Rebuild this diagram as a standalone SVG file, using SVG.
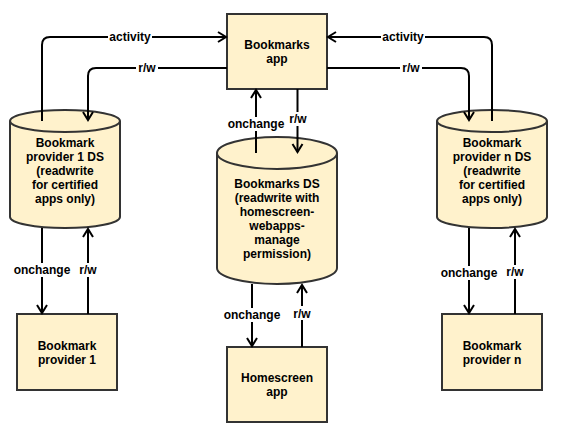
<svg xmlns="http://www.w3.org/2000/svg" width="572" height="442" viewBox="0 0 572 442">
<style>
.node{fill:#fff2cc;stroke:#333;stroke-width:2}
.t{font-family:"Liberation Sans",Arial,sans-serif;font-size:12px;font-weight:bold;fill:#000;text-anchor:middle}
.c{fill:none;stroke:#000;stroke-width:2}
.bg{fill:#fff}
</style>
<defs>
<marker id="arr" markerUnits="userSpaceOnUse" markerWidth="14" markerHeight="14" refX="10" refY="7" orient="auto" viewBox="0 0 14 14">
<path d="M2,2 L10,7 L2,12" fill="none" stroke="#000" stroke-width="2"/>
</marker>
</defs>
<rect width="572" height="442" fill="#fff"/>
<g id="bookmarks-app">
<rect class="node" x="227" y="14" width="100" height="75"/>
<text class="t" x="277" y="48.5">Bookmarks</text>
<text class="t" x="277" y="62.5">app</text>
</g>
<g id="provider1-ds">
<path class="node" d="M10,121 A55,11 0 0 1 120,121 V217 A55,11 0 0 1 10,217 Z"/>
<path class="node" d="M10,121 A55,11 0 0 0 120,121" fill="none"/>
<text class="t" x="65" y="147">Bookmark</text>
<text class="t" x="65" y="161">provider 1 DS</text>
<text class="t" x="65" y="175">(readwrite</text>
<text class="t" x="65" y="189">for certified</text>
<text class="t" x="65" y="203">apps only)</text>
</g>
<g id="bookmarks-ds">
<path class="node" d="M217,153 A60,16 0 0 1 337,153 V268 A60,16 0 0 1 217,268 Z"/>
<path class="node" d="M217,153 A60,16 0 0 0 337,153" fill="none"/>
<text class="t" x="277" y="188">Bookmarks DS</text>
<text class="t" x="277" y="202">(readwrite with</text>
<text class="t" x="277" y="216">homescreen-</text>
<text class="t" x="277" y="230">webapps-</text>
<text class="t" x="277" y="244">manage</text>
<text class="t" x="277" y="258">permission)</text>
</g>
<g id="providern-ds">
<path class="node" d="M437,121 A55,11 0 0 1 547,121 V217 A55,11 0 0 1 437,217 Z"/>
<path class="node" d="M437,121 A55,11 0 0 0 547,121" fill="none"/>
<text class="t" x="492" y="147">Bookmark</text>
<text class="t" x="492" y="161">provider n DS</text>
<text class="t" x="492" y="175">(readwrite</text>
<text class="t" x="492" y="189">for certified</text>
<text class="t" x="492" y="203">apps only)</text>
</g>
<g id="provider1">
<rect class="node" x="17" y="314" width="100" height="76"/>
<text class="t" x="67" y="349.5">Bookmark</text>
<text class="t" x="67" y="363.5">provider 1</text>
</g>
<g id="homescreen-app">
<rect class="node" x="227" y="347" width="100" height="75"/>
<text class="t" x="277" y="381.5">Homescreen</text>
<text class="t" x="277" y="395.5">app</text>
</g>
<g id="providern">
<rect class="node" x="442" y="314" width="100" height="76"/>
<text class="t" x="492" y="349.5">Bookmark</text>
<text class="t" x="492" y="363.5">provider n</text>
</g>
<g id="connectors">
<path class="c" d="M42,121 V45 Q42,37 50,37 H226" marker-end="url(#arr)"/>
<path class="c" d="M227,68 H96 Q88,68 88,76 V120" marker-end="url(#arr)"/>
<path class="c" d="M492,121 V45 Q492,37 484,37 H328" marker-end="url(#arr)"/>
<path class="c" d="M327,68 H461 Q469,68 469,76 V120" marker-end="url(#arr)"/>
<path class="c" d="M256,153 V90" marker-end="url(#arr)"/>
<path class="c" d="M297.5,89 V152" marker-end="url(#arr)"/>
<path class="c" d="M42,228 V313" marker-end="url(#arr)"/>
<path class="c" d="M88,314 V229" marker-end="url(#arr)"/>
<path class="c" d="M252,284 V346" marker-end="url(#arr)"/>
<path class="c" d="M302,347 V285" marker-end="url(#arr)"/>
<path class="c" d="M469,228 V313" marker-end="url(#arr)"/>
<path class="c" d="M515,314 V229" marker-end="url(#arr)"/>
<rect class="bg" x="108" y="30" width="44" height="14"/>
<text class="t" x="130" y="41">activity</text>
<rect class="bg" x="136" y="61" width="22" height="14"/>
<text class="t" x="147" y="72">r/w</text>
<rect class="bg" x="381" y="30" width="44" height="14"/>
<text class="t" x="403" y="41">activity</text>
<rect class="bg" x="400" y="61" width="22" height="14"/>
<text class="t" x="411" y="72">r/w</text>
<rect class="bg" x="226" y="117" width="60" height="14"/>
<text class="t" x="256" y="127.5">onchange</text>
<rect class="bg" x="287" y="112" width="22" height="14"/>
<text class="t" x="298" y="123">r/w</text>
<rect class="bg" x="12" y="263" width="60" height="14"/>
<text class="t" x="42" y="274">onchange</text>
<rect class="bg" x="77" y="263" width="22" height="14"/>
<text class="t" x="88" y="274">r/w</text>
<rect class="bg" x="222" y="308" width="60" height="14"/>
<text class="t" x="252" y="319">onchange</text>
<rect class="bg" x="291" y="306" width="22" height="14"/>
<text class="t" x="302" y="317.5">r/w</text>
<rect class="bg" x="439" y="266" width="60" height="14"/>
<text class="t" x="469" y="276.5">onchange</text>
<rect class="bg" x="504" y="265" width="22" height="14"/>
<text class="t" x="515" y="275.5">r/w</text>
</g>
</svg>
